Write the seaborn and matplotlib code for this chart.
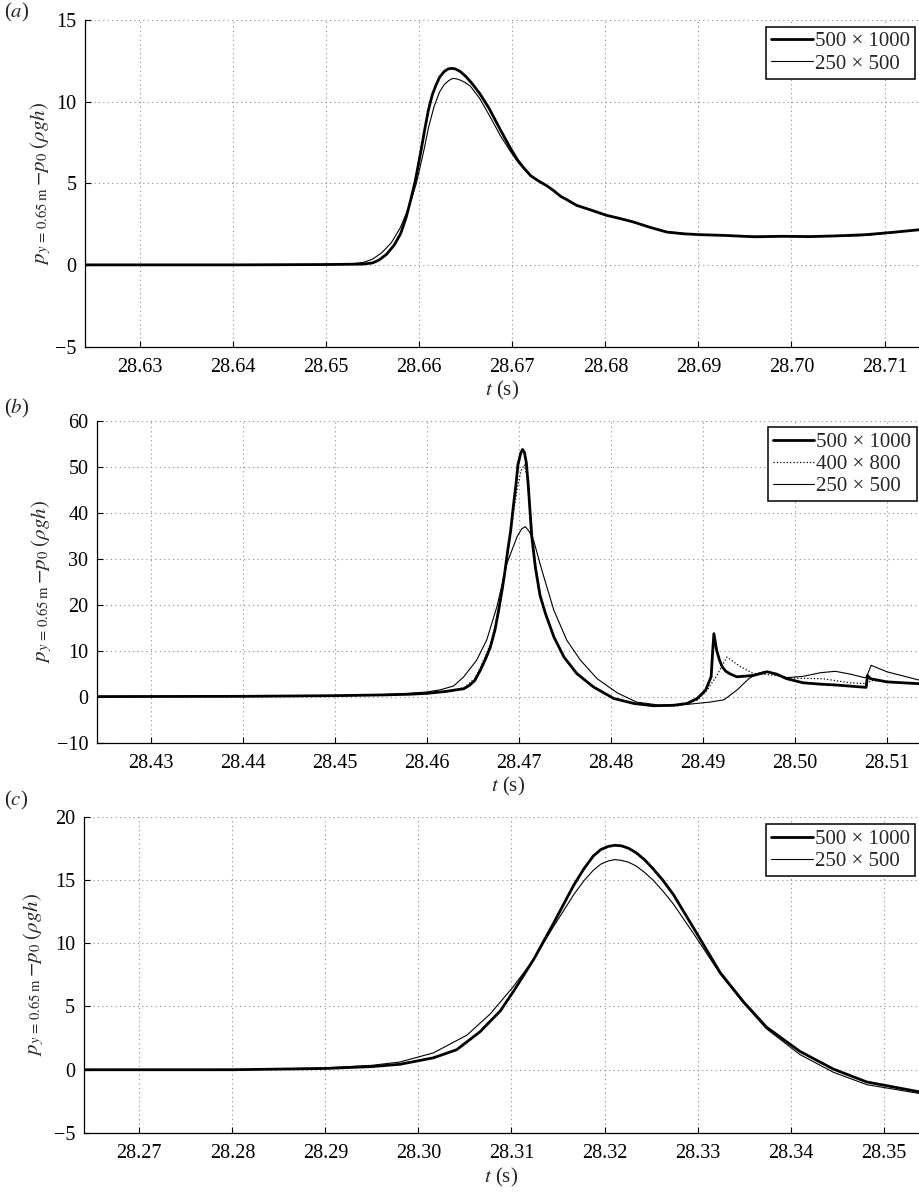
import numpy as np
import pandas as pd
import matplotlib
matplotlib.use("Agg")
import matplotlib.pyplot as plt
import matplotlib.ticker as mticker
import seaborn as sns

# ---------------- data ----------------
# panel (a)
ta_fine = [28.6241, 28.640, 28.650, 28.654, 28.655, 28.6557, 28.6565, 28.6573, 28.658, 28.6586,
           28.6591, 28.6596, 28.6602, 28.6606, 28.661, 28.6614, 28.6618, 28.6622, 28.6627, 28.6631,
           28.6635, 28.6639, 28.6644, 28.665, 28.6657, 28.6665, 28.6675, 28.6687, 28.6698, 28.6706,
           28.6713, 28.672, 28.6728, 28.6737, 28.6744, 28.6752, 28.6760, 28.6769, 28.6785, 28.6801,
           28.6815, 28.683, 28.6848, 28.6866, 28.6885, 28.6902, 28.693, 28.696, 28.699, 28.702,
           28.705, 28.708, 28.711, 28.7137]
pa_fine = [0, 0, 0.02, 0.05, 0.12, 0.3, 0.65, 1.2, 1.9, 2.9,
           4.0, 5.2, 7.0, 8.3, 9.5, 10.4, 11.0, 11.5, 11.85, 12.0,
           12.04, 12.0, 11.85, 11.55, 11.1, 10.5, 9.6, 8.3, 7.15, 6.4,
           5.9, 5.45, 5.15, 4.85, 4.57, 4.2, 3.95, 3.65, 3.35, 3.04,
           2.85, 2.63, 2.3, 2.01, 1.9, 1.85, 1.8, 1.72, 1.75, 1.73,
           1.78, 1.85, 2.0, 2.15]
ta_coarse = [28.6241, 28.640, 28.650, 28.653, 28.654, 28.655, 28.656, 28.657, 28.658, 28.659,
             28.6597, 28.6605, 28.661, 28.6616, 28.6622, 28.6627, 28.6632, 28.6636, 28.664, 28.6645,
             28.665, 28.6655, 28.6665, 28.6676, 28.6687, 28.6698, 28.6706, 28.6713, 28.672, 28.6728,
             28.6737, 28.6744, 28.6752, 28.6760, 28.6769, 28.6785, 28.6801, 28.6815, 28.683, 28.6848,
             28.6866, 28.6885, 28.6902, 28.693, 28.696, 28.699, 28.702, 28.705, 28.708, 28.711,
             28.7137]
pa_coarse = [0, 0, 0.03, 0.08, 0.15, 0.35, 0.75, 1.35, 2.3, 3.7,
             5.0, 7.0, 8.4, 9.7, 10.6, 11.05, 11.3, 11.42, 11.4, 11.3,
             11.15, 10.95, 10.2, 9.1, 7.94, 6.95, 6.3, 5.85, 5.45, 5.15,
             4.85, 4.55, 4.2, 3.95, 3.65, 3.35, 3.05, 2.85, 2.62, 2.3,
             2.03, 1.92, 1.85, 1.8, 1.75, 1.75, 1.75, 1.75, 1.8, 1.98,
             2.15]

# panel (b)
tb_fine = [28.4241, 28.440, 28.450, 28.455, 28.458, 28.460, 28.462, 28.4640, 28.4646, 28.4652,
           28.4658, 28.4664, 28.4669, 28.4674, 28.4678, 28.4682, 28.4685, 28.4688, 28.4691, 28.4694,
           28.4697, 28.4699, 28.4702, 28.4704, 28.4706, 28.4708, 28.4710, 28.4714, 28.4718, 28.4723,
           28.4729, 28.4738, 28.4749, 28.4763, 28.4781, 28.4803, 28.4825, 28.4846, 28.4868, 28.4883,
           28.4894, 28.4903, 28.4909, 28.4911, 28.4912, 28.4915, 28.4918, 28.4921, 28.4925, 28.4930,
           28.4937, 28.4955, 28.4970, 28.4980, 28.4991, 28.5009, 28.5028, 28.5046, 28.50775, 28.5079,
           28.5082, 28.5100, 28.5135]
pb_fine = [0, 0.05, 0.2, 0.35, 0.5, 0.7, 1.1, 1.7, 2.4, 3.5,
           5.7, 8.3, 10.8, 14.5, 18.8, 23.5, 27.5, 32.0, 36.0, 41.5,
           46.5, 50.5, 53.0, 53.8, 53.2, 51.0, 46.5, 34.8, 28.0, 22.0,
           18.0, 13.0, 8.6, 5.0, 2.1, -0.4, -1.5, -2.0, -1.9, -1.5,
           -0.4, 1.4, 4.3, 10.8, 13.7, 10.1, 8.0, 6.5, 5.5, 4.9,
           4.3, 4.6, 5.4, 4.9, 3.9, 3.0, 2.7, 2.5, 2.0, 4.6,
           3.9, 3.2, 2.8]
tb_mid = [28.4241, 28.440, 28.450, 28.455, 28.458, 28.460, 28.462, 28.4640, 28.4652, 28.4658,
          28.4664, 28.4669, 28.4674, 28.4678, 28.4682, 28.4686, 28.4690, 28.4694, 28.4698, 28.4702,
          28.4706, 28.4710, 28.4714, 28.4718, 28.4723, 28.4729, 28.4738, 28.4749, 28.4763, 28.4781,
          28.4803, 28.4825, 28.4850, 28.4875, 28.4894, 28.4905, 28.4915, 28.4926, 28.4941, 28.4955,
          28.4970, 28.5000, 28.5030, 28.5060, 28.5079, 28.5083, 28.5100, 28.5135]
pb_mid = [0, 0.05, 0.2, 0.35, 0.55, 0.75, 1.2, 1.9, 3.9, 6.3,
          9.0, 11.5, 15.2, 19.3, 24.0, 29.0, 34.5, 40.0, 45.0, 49.0,
          50.5, 47.0, 37.0, 29.0, 22.5, 18.0, 13.0, 8.6, 5.0, 2.2,
          -0.4, -1.5, -2.1, -2.0, -0.8, 1.5, 4.5, 8.6, 6.5, 5.0,
          4.8, 4.0, 3.9, 3.0, 2.8, 3.5, 3.2, 2.9]
tb_coarse = [28.4241, 28.440, 28.450, 28.455, 28.458, 28.460, 28.4615, 28.4629, 28.4640, 28.4654,
             28.4665, 28.4676, 28.4687, 28.4698, 28.4703, 28.4707, 28.4711, 28.4716, 28.4725, 28.4738,
             28.4752, 28.4767, 28.4785, 28.4807, 28.4828, 28.4854, 28.4883, 28.4908, 28.4923, 28.4937,
             28.4950, 28.4959, 28.4968, 28.4977, 28.4991, 28.5009, 28.5028, 28.5044, 28.5060, 28.5076,
             28.5078, 28.5083, 28.5100, 28.5135]
pb_coarse = [0, 0.05, 0.2, 0.4, 0.7, 1.0, 1.5, 2.3, 4.3, 7.9,
             12.3, 19.5, 29.0, 34.8, 36.5, 37.0, 36.0, 34.0, 27.5, 18.8,
             12.3, 7.9, 3.9, 0.8, -1.2, -1.9, -1.7, -1.2, -0.7, 1.4,
             3.9, 5.0, 5.5, 4.9, 4.1, 4.4, 5.2, 5.5, 4.9, 4.1,
             4.3, 6.8, 5.4, 3.6]

# panel (c)
tc_fine = [28.2640, 28.270, 28.280, 28.285, 28.290, 28.295, 28.2980, 28.3016, 28.3041, 28.3066,
           28.3088, 28.3102, 28.3124, 28.3145, 28.3167, 28.3178, 28.3188, 28.3196, 28.3204, 28.3211,
           28.3218, 28.3226, 28.3234, 28.3243, 28.3252, 28.3263, 28.3274, 28.3299, 28.3324, 28.3349,
           28.3374, 28.3410, 28.3446, 28.3482, 28.3538]
pc_fine = [0, 0, 0.0, 0.05, 0.1, 0.25, 0.43, 0.94, 1.58, 2.99,
           4.65, 6.18, 8.74, 11.55, 14.6, 15.9, 16.9, 17.4, 17.65, 17.74,
           17.7, 17.5, 17.15, 16.6, 15.9, 14.95, 13.85, 10.8, 7.71, 5.4,
           3.37, 1.45, 0.05, -0.97, -1.74]
tc_coarse = [28.2640, 28.270, 28.280, 28.285, 28.290, 28.295, 28.2980, 28.3016, 28.3052, 28.3077,
             28.3102, 28.3124, 28.3145, 28.3167, 28.3178, 28.3188, 28.3196, 28.3204, 28.3211, 28.3218,
             28.3226, 28.3234, 28.3243, 28.3252, 28.3263, 28.3274, 28.3299, 28.3324, 28.3349, 28.3374,
             28.3410, 28.3446, 28.3482, 28.3538]
pc_coarse = [0, 0, 0.02, 0.07, 0.15, 0.35, 0.61, 1.33, 2.73, 4.4,
             6.57, 8.74, 11.3, 13.85, 14.95, 15.77, 16.25, 16.5, 16.61, 16.55,
             16.4, 16.1, 15.6, 15.0, 14.1, 13.1, 10.4, 7.6, 5.3, 3.24,
             1.2, -0.2, -1.18, -1.87]

labels_fine = "500 × 1000"
labels_mid = "400 × 800"
labels_coarse = "250 × 500"

xlims = [(28.6241, 28.7137), (28.4241, 28.5135), (28.2640, 28.3538)]
ylims = [(-5, 15), (-10, 60), (-5, 20)]
ysteps = [5, 10, 5]
panel_tags = ["($a$)", "($b$)", "($c$)"]

# ---------------- style ----------------
sns.set_style("ticks")
plt.rcParams['font.family'] = ['Liberation Serif', 'DejaVu Serif']
plt.rcParams['mathtext.fontset'] = 'stix'
plt.rcParams['axes.unicode_minus'] = True

W, H = 919, 1204
fig = plt.figure(figsize=(W / 100, H / 100), dpi=100)

# axes boxes in pixels: left, top, bottom
boxes = [(85, 20, 346.5), (96.7, 421, 742.5), (83.5, 816.7, 1133)]
leg_anchor = [(915, 26.7), (916.7, 427.3), (915, 824)]
ylab_x = [53, 54, 46]
tag_y = [12, 408, 800]

series = [
    [(ta_fine, pa_fine, labels_fine, 2.0, '-'), (ta_coarse, pa_coarse, labels_coarse, 0.8, '-')],
    [(tb_fine, pb_fine, labels_fine, 2.0, '-'), (tb_mid, pb_mid, labels_mid, 0.9, ':'),
     (tb_coarse, pb_coarse, labels_coarse, 0.8, '-')],
    [(tc_fine, pc_fine, labels_fine, 2.0, '-'), (tc_coarse, pc_coarse, labels_coarse, 0.8, '-')],
]

ylabel = r'$p_{y\,=\,0.65\;\mathrm{m}}\,{-}p_0\;(\rho g h)$'

for i, (l, t, b) in enumerate(boxes):
    ax = fig.add_axes([l / W, 1 - b / H, (W - l) / W, (b - t) / H])
    for (tt, pp, lab, lw, ls) in series[i]:
        df = pd.DataFrame({"t": tt, "p": pp})
        sns.lineplot(data=df, x="t", y="p", ax=ax, color='black', lw=lw, ls=ls,
                     label=lab, estimator=None, sort=False)
    ax.set_xlim(*xlims[i])
    ax.set_ylim(*ylims[i])
    ax.xaxis.set_major_locator(mticker.MultipleLocator(0.01))
    ax.xaxis.set_major_formatter(mticker.FormatStrFormatter('%.2f'))
    ax.yaxis.set_major_locator(mticker.MultipleLocator(ysteps[i]))
    ax.grid(True, color='0.55', lw=0.8, dashes=(1, 3))
    for s in ['top', 'right']:
        ax.spines[s].set_visible(False)
    for s in ['left', 'bottom']:
        ax.spines[s].set_color('black')
        ax.spines[s].set_linewidth(0.9)
    ax.tick_params(direction='in', length=4, width=0.8, labelsize=14.5, colors='black')
    ax.tick_params(axis='x', pad=8)
    ax.tick_params(axis='y', pad=6)
    ax.set_xlabel(r'$t$ (s)', fontsize=15, labelpad=2)
    ax.set_ylabel(ylabel, fontsize=15)
    ax.yaxis.set_label_coords(ylab_x[i] / W, 1 - (t + b) / 2 / H, transform=fig.transFigure)
    leg = ax.legend(loc='upper right', bbox_to_anchor=(leg_anchor[i][0] / W, 1 - leg_anchor[i][1] / H),
                    bbox_transform=fig.transFigure, borderaxespad=0, fontsize=15,
                    frameon=True, fancybox=False, edgecolor='black', framealpha=1,
                    handlelength=2.0, handletextpad=0.1, borderpad=0.25, labelspacing=0.12)
    leg.get_frame().set_linewidth(1.1)
    fig.text(4 / W, 1 - tag_y[i] / H, panel_tags[i], fontsize=15, ha='left', va='center')

fig.savefig("out.png", dpi=100)
